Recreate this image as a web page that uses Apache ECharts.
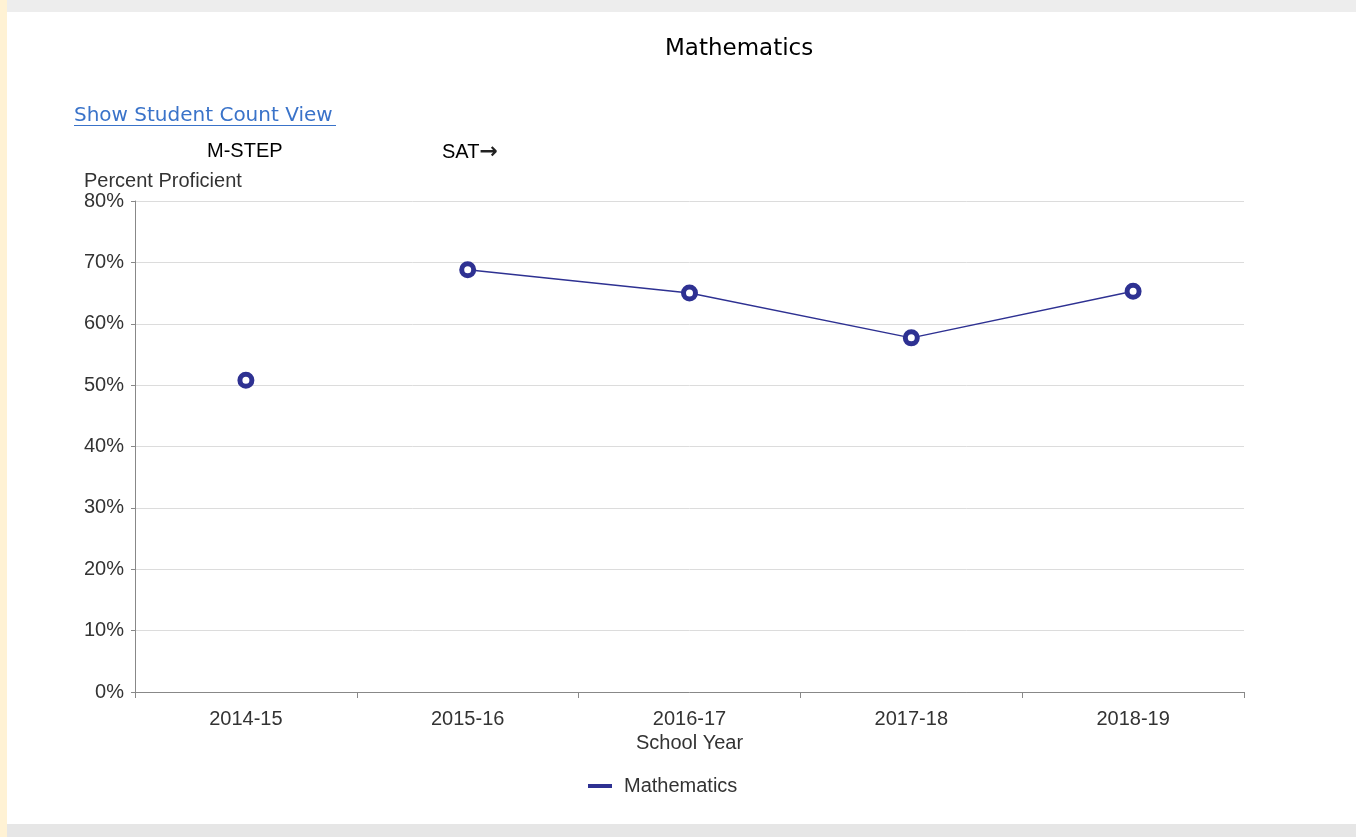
<!DOCTYPE html>
<html><head><meta charset="utf-8">
<script src="https://cdn.jsdelivr.net/npm/echarts@6/dist/echarts.min.js"></script>
<style>html,body{margin:0;padding:0;background:#fff;}#c{width:1356px;height:837px;}</style>
</head><body><div id="c"></div>
<script>
const categories = ['2014-15','2015-16','2016-17','2017-18','2018-19'];
const mstepValues = [50.8, null, null, null, null];
const satValues = [null, 68.8, 65.0, 57.7, 65.3];
const yTicks = [0,10,20,30,40,50,60,70,80];
const color = '#2e3192';
const chart = echarts.init(document.getElementById('c'));
chart.setOption({
  backgroundColor: '#fff',
  animation: false,
  title: { text: 'Mathematics', left: 660, top: 33,
    textStyle: { fontFamily: 'DejaVu Sans', fontSize: 23, fontWeight: 'normal', color: '#000' } },
  graphic: [
    { type: 'rect', left: 0, top: 0, shape: { width: 1356, height: 12 }, style: { fill: '#ededed' }, z: -10 },
    { type: 'rect', left: 0, top: 824, shape: { width: 1356, height: 13 }, style: { fill: '#e6e6e6' }, z: -10 },
    { type: 'rect', left: 0, top: 0, shape: { width: 7, height: 837 }, style: { fill: '#fff2d4' }, z: -9 },
    { type: 'text', left: 74, top: 106, style: { text: 'Show Student Count View', fill: '#3a73c9', font: '20px "DejaVu Sans"' } },
    { type: 'rect', left: 74, top: 125, shape: { width: 262, height: 1 }, style: { fill: '#3a73c9' } },
    { type: 'text', left: 207, top: 141, style: { text: 'M-STEP', fill: '#000', font: '20px "Liberation Sans"' } },
    { type: 'text', left: 442, top: 141, style: { text: 'SAT{a|→}', fill: '#000', font: '20px "Liberation Sans"',
        rich: { a: { fontWeight: 'bold', fontSize: 22, fill: '#222', fontFamily: 'DejaVu Sans' } } } },
    { type: 'text', left: 84, top: 171, style: { text: 'Percent Proficient', fill: '#333', font: '20px "Liberation Sans"' } }
  ],
  grid: { left: 135, right: 112, top: 201, bottom: 145 },
  legend: { data: ['Mathematics'], top: 771, left: 583, icon: 'rect', itemWidth: 24, itemHeight: 4, itemGap: 10,
    itemStyle: { color: color, borderWidth: 0 },
    textStyle: { fontFamily: 'Liberation Sans', fontSize: 20, color: '#333', padding: [0, 0, 0, 7] } },
  xAxis: { type: 'category', data: categories, boundaryGap: true,
    name: 'School Year', nameLocation: 'middle', nameGap: 41,
    nameTextStyle: { fontFamily: 'Liberation Sans', fontSize: 20, color: '#333' },
    axisLine: { lineStyle: { color: '#888' } },
    axisTick: { show: true, alignWithLabel: false, interval: 0, length: 6, lineStyle: { color: '#888' } },
    axisLabel: { fontFamily: 'Liberation Sans', fontSize: 20, color: '#333', margin: 17 } },
  yAxis: { type: 'value', min: 0, max: 80, interval: 10,
    axisLine: { show: true, lineStyle: { color: '#888' } }, axisTick: { show: true, length: 4, lineStyle: { color: '#888' } },
    splitLine: { lineStyle: { color: '#dcdcdc' } },
    axisLabel: { fontFamily: 'Liberation Sans', fontSize: 20, color: '#333', margin: 11, lineHeight: 16,
      formatter: v => yTicks.includes(v) ? v + '%' : '' } },
  series: [
    { name: 'Mathematics', type: 'line', data: mstepValues, color: color, symbol: 'circle', symbolSize: 12,
      itemStyle: { color: '#fff', borderColor: color, borderWidth: 5 }, lineStyle: { color: color, width: 1.5 } },
    { name: 'Mathematics', type: 'line', data: satValues, color: color, symbol: 'circle', symbolSize: 12,
      itemStyle: { color: '#fff', borderColor: color, borderWidth: 5 }, lineStyle: { color: color, width: 1.5 }, z: 3 }
  ]
});
</script></body></html>
